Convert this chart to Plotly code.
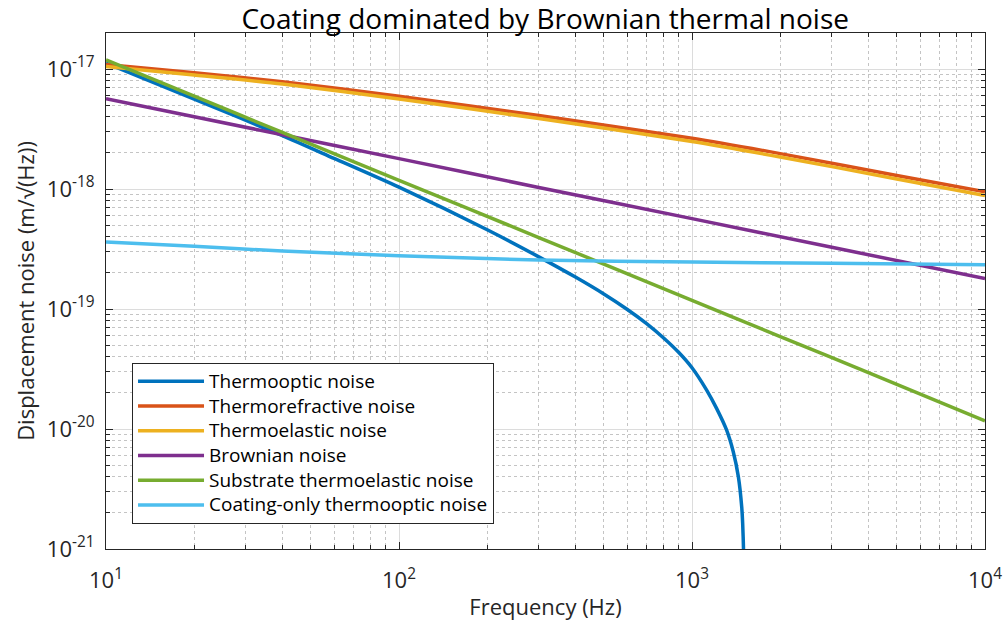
import plotly.graph_objects as go

# Frequency axis (Hz) and noise amplitude spectral densities (m/sqrt(Hz))
freq_thermooptic = [10, 20, 40, 60, 100, 200, 300, 400, 500, 600, 700, 800, 900,
                    1000, 1122, 1213, 1312, 1383, 1440, 1478, 1489, 1499, 1505]
thermooptic = [1.122e-17, 5.62e-18, 2.786e-18, 1.80e-18, 1.035e-18, 4.57e-19, 2.72e-19,
               1.845e-19, 1.334e-19, 9.95e-20, 7.55e-20, 5.74e-20, 4.36e-20,
               3.24e-20, 2.11e-20, 1.486e-20, 9.82e-21, 6.46e-21, 3.98e-21, 2.24e-21,
               1.64e-21, 1.0e-21, 5.0e-22]

freq_thermorefractive = [10, 20, 40, 100, 300, 1000, 2000, 5000, 10000]
thermorefractive = [1.091e-17, 9.31e-18, 7.83e-18, 5.92e-18, 4.09e-18, 2.65e-18,
                    1.972e-18, 1.297e-18, 9.46e-19]

freq_thermoelastic = [10, 20, 40, 100, 300, 1000, 2000, 5000, 10000]
thermoelastic = [1.047e-17, 8.91e-18, 7.50e-18, 5.62e-18, 3.87e-18, 2.49e-18,
                 1.849e-18, 1.213e-18, 8.81e-19]

freq_brownian = [10, 40, 100, 300, 1000, 3000, 10000]
brownian = [5.66e-18, 2.83e-18, 1.79e-18, 1.03e-18, 5.66e-19, 3.27e-19, 1.79e-19]

freq_substrate = [10, 20, 40, 100, 300, 1000, 2000, 4000, 10000]
substrate_thermoelastic = [1.19e-17, 5.93e-18, 2.96e-18, 1.18e-18, 3.94e-19, 1.18e-19,
                           5.89e-20, 2.95e-20, 1.17e-20]

freq_coating = [10, 20, 40, 100, 300, 1000, 3000, 10000]
coating_thermooptic = [3.61e-19, 3.33e-19, 3.04e-19, 2.78e-19, 2.56e-19, 2.46e-19,
                       2.40e-19, 2.34e-19]

series = [
    ("Thermooptic noise", freq_thermooptic, thermooptic, "#0072BD"),
    ("Thermorefractive noise", freq_thermorefractive, thermorefractive, "#D95319"),
    ("Thermoelastic noise", freq_thermoelastic, thermoelastic, "#EDB120"),
    ("Brownian noise", freq_brownian, brownian, "#7E2F8E"),
    ("Substrate thermoelastic noise", freq_substrate, substrate_thermoelastic, "#77AC30"),
    ("Coating-only thermooptic noise", freq_coating, coating_thermooptic, "#4DBEEE"),
]

x_tick_vals = [10, 100, 1000, 10000]
x_tick_text = ["10<sup>1</sup>", "10<sup>2</sup>", "10<sup>3</sup>", "10<sup>4</sup>"]
y_tick_vals = [1e-21, 1e-20, 1e-19, 1e-18, 1e-17]
y_tick_text = ["10<sup>-21</sup>", "10<sup>-20</sup>", "10<sup>-19</sup>",
               "10<sup>-18</sup>", "10<sup>-17</sup>"]

FONT = "Open Sans, DejaVu Sans, sans-serif"
AXIS_COLOR = "#262626"
LEGEND_TEXT_PX = 19

fig = go.Figure()
for name, f, v, color in series:
    fig.add_trace(go.Scatter(
        x=f, y=v, mode="lines",
        name=f'<span style="font-size:{LEGEND_TEXT_PX}px">{name}</span>',
        line=dict(color=color, width=3.5, shape="spline", smoothing=0.7)))

axis_common = dict(
    type="log",
    automargin=False,
    showline=True, linecolor=AXIS_COLOR, linewidth=1, mirror="ticks",
    ticks="inside", ticklen=7, tickcolor=AXIS_COLOR,
    showgrid=True, gridcolor="#dcdcdc", gridwidth=1,
    zeroline=False,
    tickfont=dict(family=FONT, size=22, color=AXIS_COLOR),
    minor=dict(dtick="D1", ticks="inside", ticklen=4, tickcolor=AXIS_COLOR,
               showgrid=True, gridcolor="#c4c4c4", griddash="dot", gridwidth=1),
)

fig.update_xaxes(**axis_common, range=[1, 4], tickvals=x_tick_vals, ticktext=x_tick_text,
                 ticklabelstandoff=12,
                 title=dict(text="Frequency (Hz)", standoff=6,
                            font=dict(family=FONT, size=22, color=AXIS_COLOR)))
fig.update_yaxes(**axis_common, range=[-21, -16.7], tickvals=y_tick_vals, ticktext=y_tick_text,
                 ticklabelstandoff=6,
                 title=dict(text="Displacement noise (m/\u221a(Hz))", standoff=6,
                            font=dict(family=FONT, size=22, color=AXIS_COLOR)))

fig.update_layout(
    width=1005, height=626,
    margin=dict(l=106, r=20, t=33, b=77),
    paper_bgcolor="white", plot_bgcolor="white",
    title=dict(text="Coating dominated by Brownian thermal noise",
               x=0.5425, xanchor="center", y=0.985, yanchor="top",
               font=dict(family=FONT, size=28, color="black")),
    legend=dict(x=0.0296, y=0.3605, xanchor="left", yanchor="top",
                bgcolor="white", bordercolor=AXIS_COLOR, borderwidth=1,
                font=dict(family=FONT, size=16.7, color="black"),
                itemwidth=66, tracegroupgap=0,
                entrywidth=298, entrywidthmode="pixels"),
    showlegend=True,
)

fig.write_html("out.html")
